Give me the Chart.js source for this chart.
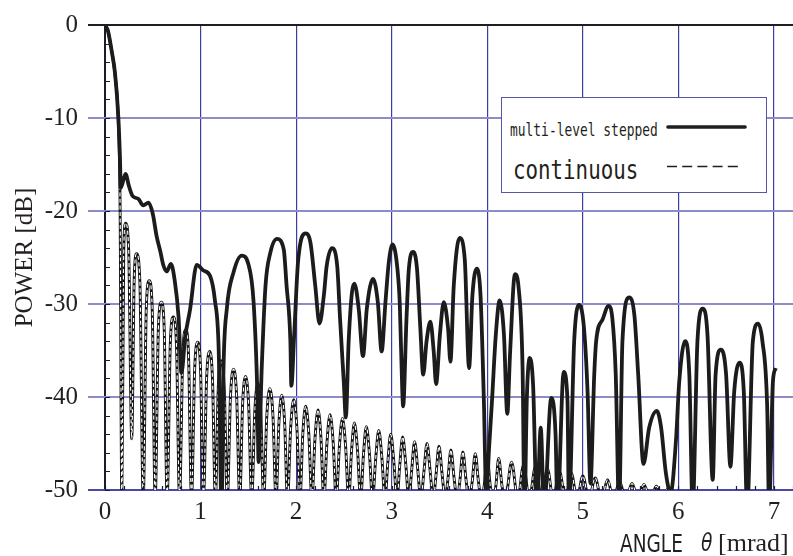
<!DOCTYPE html>
<html><head><meta charset="utf-8">
<script src="https://cdn.jsdelivr.net/npm/chart.js@4.4.1/dist/chart.umd.min.js"></script>
<style>
html,body{margin:0;padding:0;background:#fff;}
#wrap{position:relative;width:793px;height:556px;overflow:hidden;}
#c{position:absolute;left:0;top:0;}
.abs{position:absolute;white-space:nowrap;color:#231f20;line-height:1;}
#lg{position:absolute;left:501px;top:97px;width:266px;height:96px;box-sizing:border-box;border:1.6px solid #5656a6;background:#fff;}
</style></head>
<body>
<div id="wrap">
<canvas id="c" width="793" height="556"></canvas>
<div id="lg"></div>
<span class="abs" style="left:510px;top:120px;font:17px 'DejaVu Sans Mono';transform:scaleX(0.76);transform-origin:0 0;">multi-level stepped</span>
<span class="abs" style="left:513px;top:155px;font:26px 'DejaVu Sans Mono';transform:scaleX(0.8);transform-origin:0 0;">continuous</span>
<svg class="abs" style="left:660px;top:115px;" width="100" height="60">
  <line x1="8" y1="12" x2="85" y2="12" stroke="#1e1e1e" stroke-width="3.6" stroke-linecap="round"/>
  <line x1="7" y1="51.5" x2="78" y2="51.5" stroke="#1e1e1e" stroke-width="1.6" stroke-dasharray="10,5.2"/>
</svg>
<span class="abs" style="left:620px;top:529px;font:25px 'DejaVu Sans';transform:scaleX(0.74);transform-origin:0 0;">ANGLE</span>
<span class="abs" style="left:701px;top:528px;font:italic 25px 'DejaVu Sans';transform:scaleX(0.75);transform-origin:0 0;">θ</span>
<span class="abs" style="left:718px;top:528px;font:26px 'Liberation Serif';">[mrad]</span>
</div>
<script>
// ---- data (angle in mrad, power in dB) ----
const xTickValues = [0, 1, 2, 3, 4, 5, 6, 7];
const yTickValues = [0, -10, -20, -30, -40, -50];
const xMinorStep = 0.2;
const yMinorStep = 2;

const steppedPts = [
 [0.00,0],[0.03,-0.6],[0.07,-2.8],[0.105,-5.2],[0.14,-10],[0.157,-14.4],[0.165,-17.5],
 [0.215,-16.0],[0.25,-17.3],[0.29,-18.4],[0.35,-18.7],[0.40,-19.4],[0.455,-19.1],[0.50,-20.3],
 [0.54,-22.7],[0.58,-24.4],[0.61,-25.8],[0.645,-26.5],[0.69,-25.7],[0.73,-27.5],[0.77,-31.4],
 [0.80,-37.4],[0.84,-33.5],[0.89,-30.6],[0.96,-25.8],[1.03,-26.4],[1.10,-27.0],[1.15,-29.6],
 [1.19,-35],[1.22,-52],[1.24,-37],[1.275,-30.5],[1.345,-26.6],[1.43,-24.8],[1.50,-25.7],
 [1.555,-29.8],[1.595,-40],[1.607,-47],[1.64,-36.9],[1.68,-28],[1.73,-24.5],[1.80,-23],
 [1.87,-24.1],[1.90,-28],[1.94,-34],[1.95,-38.8],[1.98,-33.3],[2.02,-25.5],[2.10,-22.4],
 [2.15,-23.4],[2.20,-28],[2.245,-32.1],[2.29,-29.1],[2.32,-25.9],[2.375,-24.0],[2.43,-25.9],
 [2.46,-31.6],[2.50,-38.6],[2.52,-42.2],[2.55,-34],[2.585,-28.7],[2.61,-27.8],[2.655,-30.5],
 [2.70,-35.6],[2.74,-30.5],[2.805,-27.3],[2.855,-29.8],[2.895,-35.1],[2.935,-29.8],[2.97,-25.5],
 [3.01,-23.6],[3.06,-26.2],[3.085,-30],[3.11,-39],[3.12,-41],[3.155,-31.6],[3.18,-26.2],
 [3.225,-24.4],[3.265,-26.2],[3.30,-32.6],[3.33,-37.6],[3.365,-34],[3.405,-31.9],[3.44,-35.1],
 [3.465,-38.6],[3.505,-33.3],[3.545,-29.8],[3.59,-32.6],[3.615,-36.2],[3.65,-28],[3.71,-22.9],
 [3.765,-25.2],[3.81,-36.9],[3.845,-29.1],[3.89,-26.2],[3.93,-29.1],[3.965,-40.4],[3.99,-50.5],
 [4.02,-45.4],[4.05,-40.4],[4.09,-33.3],[4.13,-29.6],[4.175,-33.3],[4.21,-41.8],[4.24,-35.1],
 [4.29,-26.8],[4.33,-28.4],[4.37,-36.9],[4.39,-52],[4.415,-40],[4.445,-35.8],[4.48,-38.7],
 [4.52,-52],[4.56,-43.3],[4.595,-52],[4.67,-40.1],[4.715,-44],[4.735,-52],[4.80,-37.3],
 [4.84,-40.4],[4.855,-52],[4.91,-34],[4.96,-30.1],[5.01,-32.3],[5.05,-39.4],[5.08,-49.3],
 [5.12,-37.6],[5.14,-34],[5.21,-31.6],[5.27,-30.2],[5.31,-31.6],[5.345,-37.6],[5.38,-52],
 [5.415,-34],[5.485,-29.3],[5.54,-31.2],[5.58,-37.6],[5.635,-47.2],[5.695,-43.3],[5.775,-41.5],
 [5.82,-43.3],[5.87,-48.2],[5.92,-50.3],[5.975,-44.7],[6.01,-38.3],[6.07,-34],[6.115,-37.6],
 [6.15,-52],[6.20,-34],[6.255,-30.5],[6.305,-33.3],[6.36,-48.9],[6.39,-37.6],[6.445,-34.9],
 [6.50,-37.6],[6.545,-47.5],[6.585,-39.4],[6.64,-36.3],[6.685,-39.4],[6.72,-52],[6.78,-34],
 [6.835,-32.1],[6.88,-34],[6.93,-41.1],[6.95,-52],[6.99,-38.3],[7.02,-36.9]
];

const continuousPts = [
 [0,0],[0.03,-0.6],[0.07,-2.8],[0.105,-5.3],[0.14,-10.5],[0.158,-19.5],[0.176,-51],
 [0.196,-24.3],[0.215,-21.3],[0.248,-24.3],[0.28,-44.5],
 [0.305,-27.6],[0.33,-24.6],[0.365,-27.6],[0.40,-51],
 [0.432,-30.5],[0.463,-27.5],[0.494,-30.5],[0.525,-51],
 [0.558,-32.8],[0.59,-29.8],[0.62,-32.8],[0.65,-51],
 [0.683,-34.4],[0.715,-31.4],[0.748,-34.4],[0.78,-51],
 [0.813,-35.8],[0.845,-32.8],[0.875,-35.8],[0.905,-51],
 [0.938,-37.1],[0.97,-34.1],[1.0,-37.1],[1.03,-51],
 [1.063,-38.1],[1.095,-35.1],[1.125,-38.1],[1.155,-51],
 [1.185,-39.1],[1.215,-36.1],[1.248,-39.1],[1.28,-51],
 [1.313,-40.0],[1.345,-37.0],[1.378,-40.0],[1.41,-51],
 [1.44,-40.8],[1.47,-37.8],[1.503,-40.8],[1.535,-51],
 [1.568,-41.5],[1.60,-38.5],[1.63,-41.5],[1.66,-51],
 [1.693,-42.1],[1.725,-39.1],[1.758,-42.1],[1.79,-51],
 [1.82,-42.8],[1.85,-39.8],[1.88,-42.8],[1.91,-51],
 [1.943,-43.3],[1.975,-40.3],[2.008,-43.3],[2.04,-51],
 [2.07,-44.0],[2.10,-41.0],[2.133,-44.0],[2.165,-51],
 [2.198,-44.4],[2.23,-41.4],[2.26,-44.4],[2.29,-51],
 [2.323,-44.9],[2.355,-41.9],[2.388,-44.9],[2.42,-51],
 [2.453,-45.3],[2.485,-42.3],[2.518,-45.3],[2.55,-51],
 [2.58,-45.8],[2.61,-42.8],[2.643,-45.8],[2.675,-51],
 [2.705,-46.2],[2.735,-43.2],[2.768,-46.2],[2.80,-51],
 [2.833,-46.6],[2.865,-43.6],[2.898,-46.6],[2.93,-51],
 [2.96,-47.0],[2.99,-44.0],[3.023,-47.0],[3.055,-51],
 [3.085,-47.3],[3.115,-44.3],[3.148,-47.3],[3.18,-51],
 [3.21,-47.8],[3.24,-44.8],[3.273,-47.8],[3.305,-51],
 [3.338,-48.0],[3.37,-45.0],[3.403,-48.0],[3.435,-51],
 [3.465,-48.3],[3.495,-45.3],[3.528,-48.3],[3.56,-51],
 [3.59,-48.7],[3.62,-45.7],[3.653,-48.7],[3.685,-51],
 [3.715,-48.9],[3.745,-45.9],[3.778,-48.9],[3.81,-51],
 [3.843,-49.1],[3.875,-46.1],[3.908,-49.1],[3.94,-51],
 [3.97,-49.4],[4.0,-46.4],[4.03,-49.4],[4.06,-51],
 [4.09,-49.6],[4.12,-46.6],[4.155,-49.6],[4.19,-51],
 [4.255,-47.0],[4.32,-51],[4.38,-47.3],[4.44,-51],[4.505,-47.5],[4.57,-51],
 [4.63,-47.7],[4.69,-51],[4.755,-48.0],[4.82,-51],[4.88,-48.2],[4.94,-51],[5.0,-48.5],
 [5.065,-51],[5.13,-48.7],[5.195,-51],[5.26,-48.9],[5.32,-51],[5.385,-49.1],[5.45,-51],
 [5.515,-49.3],[5.58,-51],[5.64,-49.4],[5.705,-51],[5.77,-49.6],[5.835,-51],[5.895,-49.8],
 [5.96,-51]
];

const toXY = pts => pts.map(p => ({x: p[0], y: p[1]}));

const minorTicks = {
  id: 'minorTicks',
  afterDraw(chart) {
    const {ctx, chartArea: a, scales: {x, y}} = chart;
    ctx.save();
    ctx.strokeStyle = '#1c1c30';
    ctx.lineWidth = 1.2;
    ctx.beginPath();
    for (let v = y.max; v >= y.min - 1e-9; v -= yMinorStep) {
      const py = Math.round(y.getPixelForValue(v)) + 0.5;
      ctx.moveTo(a.left, py); ctx.lineTo(a.left + 5, py);
    }
    for (let v = x.min; v <= x.max + 1e-9; v += xMinorStep) {
      const px = Math.round(x.getPixelForValue(v)) + 0.5;
      ctx.moveTo(px, a.bottom); ctx.lineTo(px, a.bottom - 4);
    }
    ctx.stroke();
    ctx.restore();
  }
};

const tickFont = {family: "'Liberation Serif', serif", size: 25};

new Chart(document.getElementById('c'), {
  type: 'line',
  data: {
    datasets: [
      {data: toXY(steppedPts), borderColor: '#1c1c1c', borderWidth: 3.8, pointRadius: 0,
       cubicInterpolationMode: 'monotone', clip: 0, order: 0},
      {data: toXY(continuousPts), borderColor: '#ffffff', borderWidth: 1.1, borderDash: [4, 2.5],
       pointRadius: 0, cubicInterpolationMode: 'monotone', clip: 0, order: 1},
      {data: toXY(continuousPts), borderColor: '#141414', borderWidth: 2.9, pointRadius: 0,
       cubicInterpolationMode: 'monotone', clip: 0, order: 2}
    ]
  },
  options: {
    responsive: false,
    animation: false,
    events: [],
    layout: {padding: {top: 20, right: 0, left: 0, bottom: 0}},
    plugins: {legend: {display: false}, tooltip: {enabled: false}},
    scales: {
      x: {
        type: 'linear', min: 0, max: 7.2,
        afterBuildTicks: s => { s.ticks = xTickValues.map(v => ({value: v})); },
        afterFit: s => { s.height = 66; },
        border: {display: false},
        grid: {
          drawTicks: false,
          color: c => (c.tick && c.tick.value === 0) ? '#1b1b30' : '#3c3ca2',
          lineWidth: c => (c.tick && c.tick.value === 0) ? 2 : 1.2
        },
        ticks: {font: tickFont, color: '#231f20', padding: 7, maxRotation: 0,
                callback: v => String(v)}
      },
      y: {
        type: 'linear', min: -50, max: 0,
        afterBuildTicks: s => { s.ticks = yTickValues.map(v => ({value: v})); },
        afterFit: s => { s.width = 105; },
        border: {display: false},
        grid: {
          drawTicks: true, tickLength: 17,
          color: c => { const v = c.tick ? c.tick.value : 1;
            return v === 0 ? '#1e1e1e' : (v === -50 ? '#4848a8' : '#8c8cca'); },
          lineWidth: 2
        },
        ticks: {font: tickFont, color: '#231f20', padding: 10, callback: v => String(v)},
        title: {display: true, text: 'POWER [dB]', color: '#231f20',
                font: {family: "'Liberation Serif', serif", size: 25}, padding: {top: 10, bottom: 0}}
      }
    }
  },
  plugins: [minorTicks]
});
</script>
</body></html>
